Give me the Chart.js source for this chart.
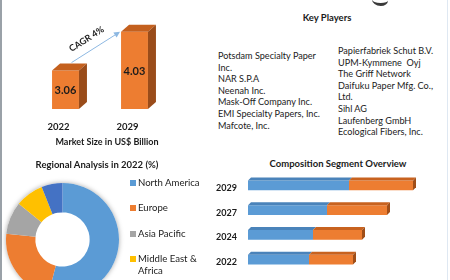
<!DOCTYPE html>
<html><head><meta charset="utf-8">
<script src="https://cdn.jsdelivr.net/npm/chart.js@4.4.1/dist/chart.umd.min.js"></script>
<style>
html,body{margin:0;padding:0;background:#fff;}
body{width:450px;height:280px;overflow:hidden;position:relative;font-family:Lato,'Open Sans',sans-serif;color:#1b1b1b;}
.abs{position:absolute;}
canvas{position:absolute;}
.title{font-weight:bold;font-size:9.5px;white-space:nowrap;transform:translate(-50%,-50%);}
.kp{font-size:9.1px;line-height:11.6px;}
.leg{position:absolute;left:130px;font-size:9.6px;line-height:12px;width:74px;}
.leg i{position:absolute;left:0;top:3px;width:6px;height:6px;}
.leg span{display:block;margin-left:8px;}
</style></head><body>
<div class="abs" style="left:0;top:0;width:2px;height:280px;background:#9aa1a8"></div>
<div class="abs" style="left:447px;top:0;width:1px;height:280px;background:#dfe8f2"></div>
<div class="abs" style="left:372px;top:-6px;width:16px;height:9px;border-bottom:3px solid #3a3a3a;border-radius:0 0 50% 60%;"></div>

<canvas id="market" width="215" height="150" style="left:0;top:0"></canvas>
<div id="marketTitle" class="abs title" style="left:107px;top:141px;font-size:9px"></div>
<div id="kpTitle" class="abs title" style="left:327px;top:17px"></div>
<div id="kpLeft" class="abs kp" style="left:218px;top:50px;width:109px"></div>
<div id="kpRight" class="abs kp" style="left:338px;top:45px;width:104px"></div>

<div id="regTitle" class="abs title" style="left:97px;top:164px"></div>
<canvas id="donut" width="125" height="125" style="left:0;top:177px"></canvas>
<div id="legend"></div>

<div id="compTitle" class="abs title" style="left:338px;top:163px"></div>
<canvas id="comp" width="235" height="105" style="left:215px;top:170px"></canvas>

<script>
// ---------- data ----------
const marketYears = ['2022', '2029'];
const marketValues = [3.06, 4.03];
const marketAxisMin = 2.1;
const marketAxisTitle = 'Market Size in US$ Billion';
const cagrLabel = 'CAGR 4%';

const keyPlayersTitle = 'Key Players';
const keyPlayersLeft = ['Potsdam Specialty Paper Inc.', 'NAR S.P.A', 'Neenah Inc.', 'Mask-Off Company Inc.', 'EMI Specialty Papers, Inc.', 'Mafcote, Inc.'];
const keyPlayersRight = ['Papierfabriek Schut B.V.', 'UPM-Kymmene\u00a0 Oyj', 'The Griff Network', 'Daifuku Paper Mfg. Co., Ltd.', 'Sihl AG', 'Laufenberg GmbH', 'Ecological Fibers, Inc.'];

const regionTitle = 'Regional Analysis in 2022 (%)';
const regions = ['North America', 'Europe', 'Asia Pacific', 'Middle East & Africa', 'South America'];
const regionShares = [54, 22.6, 9.3, 8.1, 6];
const regionColors = ['#5B9BD5', '#ED7D31', '#A5A5A5', '#FFC000', '#4472C4'];

const compTitle = 'Composition Segment Overview';
const compYears = ['2029', '2027', '2024', '2022'];
const compSegA = [101, 79, 65, 61];
const compSegB = [64, 60, 49, 44];

// ---------- text blocks ----------
document.getElementById('kpTitle').textContent = keyPlayersTitle;
document.getElementById('marketTitle').textContent = marketAxisTitle;
document.getElementById('regTitle').textContent = regionTitle;
document.getElementById('compTitle').textContent = compTitle;
document.getElementById('kpLeft').innerHTML = keyPlayersLeft.map(s => '<div>' + s + '</div>').join('');
document.getElementById('kpRight').innerHTML = keyPlayersRight.map(s => '<div>' + s + '</div>').join('');

const FONT = 'Lato';

// ---------- market size chart ----------
const bar3d = {
  id: 'bar3d',
  afterDatasetsDraw(chart) {
    const ctx = chart.ctx;
    const meta = chart.getDatasetMeta(0);
    const dx = 8, dy = 7;
    meta.data.forEach((bar, i) => {
      const w = bar.width, l = bar.x - w / 2, r = bar.x + w / 2, t = bar.y, b = bar.base;
      ctx.save();
      ctx.fillStyle = '#C4601E';
      ctx.beginPath(); ctx.moveTo(l, t); ctx.lineTo(l + dx, t - dy); ctx.lineTo(r + dx, t - dy); ctx.lineTo(r, t); ctx.closePath(); ctx.fill();
      ctx.fillStyle = '#9A4C1A';
      ctx.beginPath(); ctx.moveTo(r, t); ctx.lineTo(r + dx, t - dy); ctx.lineTo(r + dx, b - dy); ctx.lineTo(r, b); ctx.closePath(); ctx.fill();
      ctx.fillStyle = '#1b1b1b';
      ctx.font = 'bold 11px ' + FONT;
      ctx.textAlign = 'center'; ctx.textBaseline = 'middle';
      ctx.fillText(marketValues[i].toFixed(2), bar.x, (t + b) / 2 + 1);
      ctx.restore();
    });
    // CAGR arrow
    const a = meta.data[0], c = meta.data[1];
    const x1 = a.x + 6, y1 = a.y - 8;
    const x2 = c.x - c.width / 2 - 1, y2 = c.y;
    const ang = Math.atan2(y2 - y1, x2 - x1);
    ctx.save();
    ctx.strokeStyle = '#8DB8E2'; ctx.fillStyle = '#8DB8E2'; ctx.lineWidth = 1;
    ctx.beginPath(); ctx.moveTo(x1, y1); ctx.lineTo(x2 - 4 * Math.cos(ang), y2 - 4 * Math.sin(ang)); ctx.stroke();
    ctx.beginPath();
    ctx.moveTo(x2, y2);
    ctx.lineTo(x2 - 6 * Math.cos(ang) + 3 * Math.sin(ang), y2 - 6 * Math.sin(ang) - 3 * Math.cos(ang));
    ctx.lineTo(x2 - 6 * Math.cos(ang) - 3 * Math.sin(ang), y2 - 6 * Math.sin(ang) + 3 * Math.cos(ang));
    ctx.closePath(); ctx.fill();
    const mx = (x1 + x2) / 2, my = (y1 + y2) / 2;
    ctx.translate(mx + 6 * Math.sin(ang) - 6, my - 6 * Math.cos(ang) - 3);
    ctx.rotate(ang);
    ctx.fillStyle = '#1b1b1b';
    ctx.font = 'bold 9px ' + FONT;
    ctx.textAlign = 'center'; ctx.textBaseline = 'middle';
    ctx.fillText(cagrLabel, 0, 0);
    ctx.restore();
  }
};

new Chart(document.getElementById('market'), {
  type: 'bar',
  data: { labels: marketYears, datasets: [{ data: marketValues, base: marketAxisMin, backgroundColor: '#ED7D31', borderWidth: 0, categoryPercentage: 1, barPercentage: 0.39, clip: false }] },
  options: {
    responsive: false, animation: false, devicePixelRatio: 1,
    layout: { padding: { left: 31, right: 46, top: 13, bottom: 0 } },
    plugins: { legend: { display: false }, tooltip: { enabled: false } },
    scales: {
      y: { display: false, min: marketAxisMin, max: 4.5 },
      x: {
        grid: { display: false, drawTicks: false }, border: { display: false },
        ticks: { color: '#1b1b1b', font: { family: FONT, weight: 'bold', size: 9.5 }, padding: 12, labelOffset: -7 },
        afterFit(axis) { axis.height = 41; axis.paddingLeft = 0; axis.paddingRight = 0; }
      }
    }
  },
  plugins: [bar3d]
});

// ---------- regional donut ----------
const donutShadow = {
  id: 'donutShadow',
  beforeDatasetsDraw(chart) {
    const arc = chart.getDatasetMeta(0).data[0];
    const ctx = chart.ctx;
    ctx.save();
    ctx.shadowColor = 'rgba(0,0,0,0.35)'; ctx.shadowBlur = 5;
    ctx.fillStyle = '#fff';
    ctx.beginPath(); ctx.arc(arc.x, arc.y, arc.outerRadius, 0, Math.PI * 2); ctx.fill();
    ctx.restore();
  }
};
new Chart(document.getElementById('donut'), {
  type: 'doughnut',
  data: { labels: regions, datasets: [{ data: regionShares, backgroundColor: regionColors, borderWidth: 0 }] },
  options: {
    responsive: false, animation: false, devicePixelRatio: 1, cutout: '48%',
    layout: { padding: 6 },
    plugins: { legend: { display: false }, tooltip: { enabled: false } }
  },
  plugins: [donutShadow]
});
const legendTops = [177, 202, 228, 253, 290];
document.getElementById('legend').innerHTML = regions.map((r, i) =>
  '<div class="leg" style="top:' + legendTops[i] + 'px"><i style="background:' + regionColors[i] + '"></i><span style="width:62px">' + r + '</span></div>').join('');

// ---------- composition ----------
const hbar3d = {
  id: 'hbar3d',
  afterDatasetsDraw(chart) {
    const ctx = chart.ctx; const d = 3;
    const tops = ['#4A83BA', '#C8621F'];
    chart.data.datasets.forEach((ds, di) => {
      chart.getDatasetMeta(di).data.forEach(bar => {
        const h = bar.height, t = bar.y - h / 2, b = bar.y + h / 2, l = bar.base, r = bar.x;
        ctx.save();
        ctx.fillStyle = tops[di];
        ctx.beginPath(); ctx.moveTo(l, t); ctx.lineTo(l + d, t - d); ctx.lineTo(r + d, t - d); ctx.lineTo(r, t); ctx.closePath(); ctx.fill();
        if (di === chart.data.datasets.length - 1) {
          ctx.fillStyle = '#A04E18';
          ctx.beginPath(); ctx.moveTo(r, t); ctx.lineTo(r + d, t - d); ctx.lineTo(r + d, b - d); ctx.lineTo(r, b); ctx.closePath(); ctx.fill();
        }
        ctx.restore();
      });
    });
  }
};
new Chart(document.getElementById('comp'), {
  type: 'bar',
  data: { labels: compYears, datasets: [
    { data: compSegA, backgroundColor: '#5B9BD5', borderWidth: 0, categoryPercentage: 1, barPercentage: 0.4 },
    { data: compSegB, backgroundColor: '#ED7D31', borderWidth: 0, categoryPercentage: 1, barPercentage: 0.4 }
  ] },
  options: {
    indexAxis: 'y', responsive: false, animation: false, devicePixelRatio: 1,
    layout: { padding: { left: 0, right: 22, top: 3, bottom: 3 } },
    plugins: { legend: { display: false }, tooltip: { enabled: false } },
    scales: {
      x: { display: false, stacked: true, min: 0, max: 180 },
      y: {
        stacked: true, grid: { display: false, drawTicks: false }, border: { display: false },
        ticks: { color: '#1b1b1b', font: { family: FONT, weight: 'bold', size: 9 }, padding: 11, labelOffset: 2.5 },
        afterFit(axis) { axis.width = 33; axis.paddingTop = 0; axis.paddingBottom = 0; }
      }
    }
  },
  plugins: [hbar3d]
});
</script>
</body></html>
